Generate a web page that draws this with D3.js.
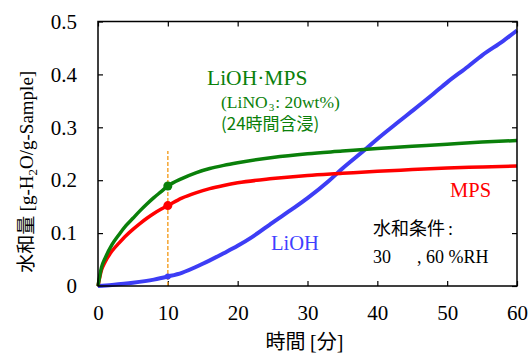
<!DOCTYPE html>
<html>
<head>
<meta charset="utf-8">
<script src="https://cdn.jsdelivr.net/npm/d3@7"></script>
<style>
  body { margin: 0; background: #fff; }
  svg { display: block; }
</style>
</head>
<body>
<div id="vis"></div>
<script>
// data (minutes, g-H2O/g-Sample)
const lmTime = [0, 0.5, 1, 2, 3, 4, 5, 6, 7, 8, 9, 10, 12, 14, 16, 18, 20, 25, 30, 35, 40, 45, 50, 55, 60];
const lmVals = [0, 0.035, 0.052, 0.078, 0.097, 0.114, 0.128, 0.142, 0.155, 0.167, 0.178, 0.189, 0.203, 0.214, 0.222, 0.228, 0.233, 0.243, 0.250, 0.255, 0.260, 0.264, 0.268, 0.272, 0.275];
const mpsTime = [0, 0.5, 1, 2, 3, 4, 5, 6, 7, 8, 9, 10, 12, 14, 16, 18, 20, 25, 30, 35, 40, 45, 50, 55, 60];
const mpsVals = [0, 0.030, 0.045, 0.066, 0.081, 0.095, 0.107, 0.118, 0.128, 0.137, 0.145, 0.152, 0.166, 0.176, 0.184, 0.190, 0.195, 0.203, 0.209, 0.213, 0.217, 0.220, 0.223, 0.225, 0.227];
const liohTime = [0, 2, 5, 8, 10, 12, 15, 18, 20, 22, 25, 28, 30, 33, 35, 38, 40, 43, 45, 48, 50, 53, 55, 58, 60];
const liohVals = [0, 0.002, 0.006, 0.012, 0.018, 0.025, 0.042, 0.062, 0.076, 0.092, 0.120, 0.147, 0.166, 0.198, 0.222, 0.255, 0.278, 0.310, 0.331, 0.363, 0.385, 0.415, 0.436, 0.463, 0.483];
const markTime = [10];
const guideTop = 0.255;
const xTicks = [0, 10, 20, 30, 40, 50, 60];
const yTicks = [0, 0.1, 0.2, 0.3, 0.4, 0.5];

const SERIF = '"Liberation Serif", "DejaVu Serif", "Times New Roman", serif';
const CJK = '"Noto Sans CJK JP", "Noto Sans", sans-serif';

const W = 531, H = 356;
const margin = {top: 21.5, right: 14, bottom: 70, left: 98};
const width = W - margin.left - margin.right;
const height = H - margin.top - margin.bottom;

const svg = d3.select('#vis').append('svg')
    .attr('width', W).attr('height', H);
const g = svg.append('g')
    .attr('transform', `translate(${margin.left},${margin.top})`);

const x = d3.scaleLinear().domain([0, 60]).range([0, width]);
const y = d3.scaleLinear().domain([0, 0.5]).range([height, 0]);

// tick marks inside on all four sides
const tl = 5;
g.append('g').attr('transform', `translate(0,${height})`)
    .call(d3.axisBottom(x).tickValues(xTicks).tickSizeInner(-tl).tickSizeOuter(0).tickFormat(d => d).tickPadding(19))
    .call(a => a.select('.domain').remove());
g.append('g')
    .call(d3.axisTop(x).tickValues(xTicks).tickSizeInner(-tl).tickSizeOuter(0).tickFormat(''))
    .call(a => a.select('.domain').remove());
g.append('g')
    .call(d3.axisLeft(y).tickValues(yTicks).tickSizeInner(-tl).tickSizeOuter(0).tickFormat(d => d === 0 ? '0' : d3.format('.1f')(d)).tickPadding(21))
    .call(a => a.select('.domain').remove());
g.append('g').attr('transform', `translate(${width},0)`)
    .call(d3.axisRight(y).tickValues(yTicks).tickSizeInner(-tl).tickSizeOuter(0).tickFormat(''))
    .call(a => a.select('.domain').remove());

g.selectAll('.tick line').attr('stroke', '#000').attr('stroke-width', 1.2);
g.selectAll('.tick text')
    .style('font-family', SERIF)
    .style('font-size', '21px')
    .attr('fill', '#000');

// guide line at 10 min
g.append('line')
    .attr('x1', x(markTime[0])).attr('x2', x(markTime[0]))
    .attr('y1', y(0)).attr('y2', y(guideTop))
    .attr('stroke', '#f5a531').attr('stroke-width', 1.5)
    .attr('stroke-dasharray', '4,2');

const line = d3.line().x(d => x(d[0])).y(d => y(d[1])).curve(d3.curveMonotoneX);
const series = [
    {t: liohTime, v: liohVals, color: '#3d3df5', w: 4},
    {t: mpsTime, v: mpsVals, color: '#ff0000', w: 3.5},
    {t: lmTime, v: lmVals, color: '#0a800a', w: 3.5}
];
series.forEach(s => {
    const pts = s.t.map((t, i) => [t, s.v[i]]);
    g.append('path').datum(pts)
        .attr('d', line)
        .attr('fill', 'none')
        .attr('stroke', s.color)
        .attr('stroke-width', s.w)
        .attr('stroke-linejoin', 'round');
});

// markers at 10 min
series.forEach((s, si) => {
    const i = s.t.indexOf(markTime[0]);
    g.append('circle')
        .attr('cx', x(s.t[i])).attr('cy', y(s.v[i]))
        .attr('r', si === 0 ? 3 : 4.5)
        .attr('fill', s.color);
});

// frame
g.append('rect').attr('width', width).attr('height', height)
    .attr('fill', 'none').attr('stroke', '#000').attr('stroke-width', 1.5);

// labels in the plot
function txt(xp, yp, size, color, font) {
    return svg.append('text').attr('x', xp).attr('y', yp)
        .style('font-size', size + 'px').style('font-family', font).attr('fill', color);
}
const green = '#0a800a';
txt(207, 85, 21.5, green, SERIF).text('LiOH·MPS');
const t2 = txt(221, 108, 17.5, green, SERIF);
t2.append('tspan').text('(LiNO');
t2.append('tspan').style('font-size', '11px').attr('dx', 1).attr('dy', 3).text('3');
t2.append('tspan').attr('dx', 1).attr('dy', -3).text(': 20wt%)');
txt(221, 130, 17, green, CJK).text('(24時間含浸)');

txt(450, 197, 20.5, '#ff0000', SERIF).text('MPS');
txt(271, 250, 20.5, '#4040ff', SERIF).text('LiOH');

const c1 = txt(373, 235, 18, '#000', CJK);
c1.append('tspan').text('水和条件');
c1.append('tspan').style('font-family', SERIF).attr('dx', 3).text(':');
txt(373, 263, 18, '#000', SERIF).text('30');
txt(417, 263, 18, '#000', SERIF).text(', 60 %RH');

// axis titles
const xt = txt(margin.left + width / 2 - 3, 349, 20, '#000', CJK).attr('text-anchor', 'middle');
xt.append('tspan').text('時間 ');
xt.append('tspan').style('font-family', SERIF).text('[');
xt.append('tspan').text('分');
xt.append('tspan').style('font-family', SERIF).text(']');

const yt = txt(0, 0, 19, '#000', SERIF)
    .attr('transform', `translate(33,${margin.top + height / 2 + 18}) rotate(-90)`)
    .attr('text-anchor', 'middle');
yt.append('tspan').style('font-family', CJK).text('水和量 ');
yt.append('tspan').text('[g-H');
yt.append('tspan').style('font-size', '13px').attr('dy', 4).text('2');
yt.append('tspan').attr('dy', -4).text('O/g-Sample]');
</script>
</body>
</html>
